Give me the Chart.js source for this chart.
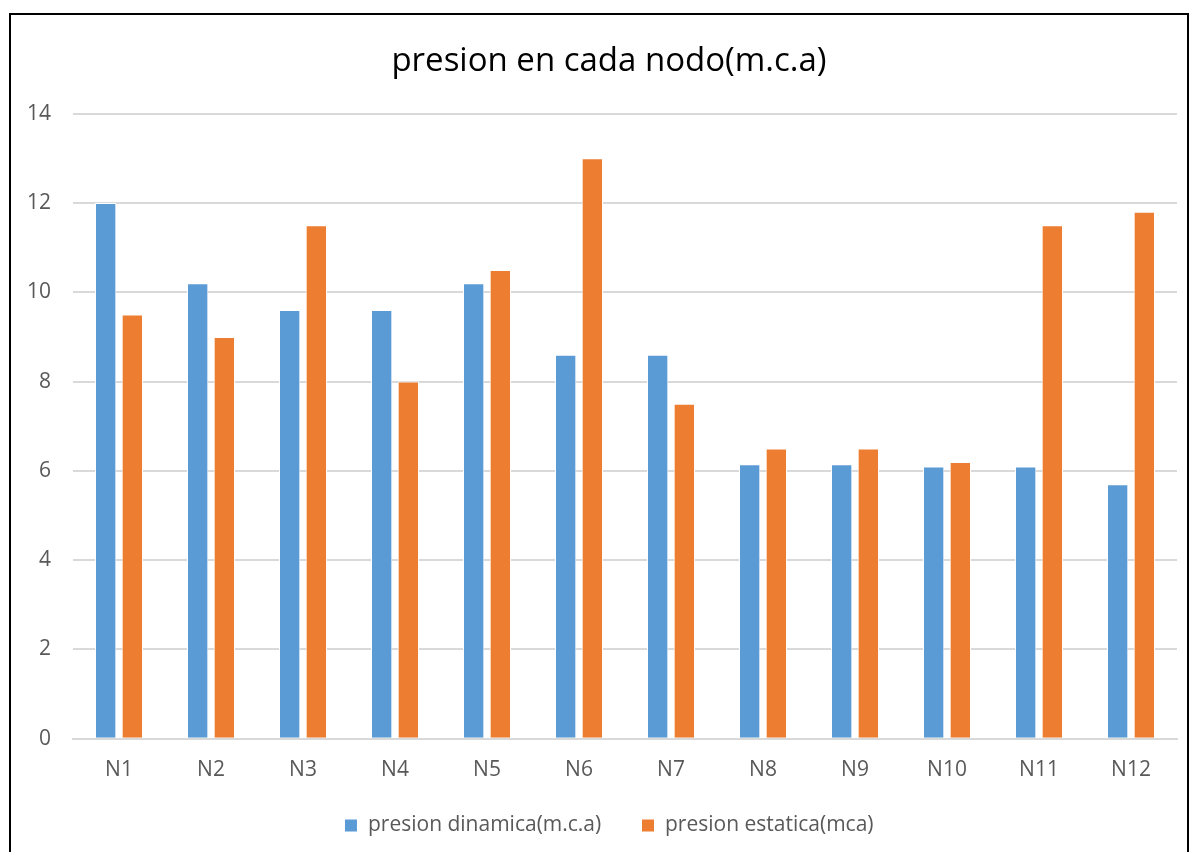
<!DOCTYPE html>
<html lang="es">
<head>
  <meta charset="UTF-8">
  <title>presion en cada nodo</title>
  <script src="https://cdn.jsdelivr.net/npm/chart.js"></script>
  <style>
    body {
      margin: 0;
      background: #fff;
      width: 1195px;
      height: 852px;
      overflow: hidden;
      position: relative;
    }
    .frame {
      position: absolute;
      left: 9px;
      top: 13px;
      width: 1180px;
      height: 860px;
      border: 2px solid #000;
      box-sizing: border-box;
    }
    .wrap {
      position: absolute;
      left: 5px;
      top: 16px;
      width: 1208px;
      height: 836px;
    }
  </style>
</head>
<body>
  <div class="frame"></div>
  <div class="wrap"><canvas id="chart"></canvas></div>

  <script>
    const nodos = ['N1', 'N2', 'N3', 'N4', 'N5', 'N6', 'N7', 'N8', 'N9', 'N10', 'N11', 'N12'];
    const presionDinamica = [12, 10.2, 9.6, 9.6, 10.2, 8.6, 8.6, 6.15, 6.15, 6.1, 6.1, 5.7];
    const presionEstatica = [9.5, 9.0, 11.5, 8.0, 10.5, 13.0, 7.5, 6.5, 6.5, 6.2, 11.5, 11.8];

    const fuente = "'Open Sans', 'Noto Sans', sans-serif";
    const gris = '#595959';

    new Chart(document.getElementById('chart'), {
      type: 'bar',
      data: {
        labels: nodos,
        datasets: [
          {
            label: 'presion dinamica(m.c.a)',
            data: presionDinamica,
            backgroundColor: '#5b9bd5',
            borderColor: '#ffffff',
            borderWidth: 1,
            categoryPercentage: 0.58,
            barPercentage: 0.8
          },
          {
            label: 'presion estatica(mca)',
            data: presionEstatica,
            backgroundColor: '#ed7d31',
            borderColor: '#ffffff',
            borderWidth: 1,
            categoryPercentage: 0.58,
            barPercentage: 0.8
          }
        ]
      },
      options: {
        responsive: true,
        maintainAspectRatio: false,
        animation: false,
        layout: {
          padding: { top: 10, left: 0, right: 0, bottom: 6 }
        },
        plugins: {
          title: {
            display: true,
            text: 'presion en cada nodo(m.c.a)',
            color: '#000',
            font: { family: fuente, size: 33, weight: 'normal' },
            padding: { top: 16, bottom: 32 }
          },
          legend: {
            position: 'bottom',
            labels: {
              color: gris,
              boxWidth: 13,
              boxHeight: 13,
              padding: 13,
              font: { family: fuente, size: 21 },
              // espacio extra entre las dos entradas, como en Excel
              generateLabels(chart) {
                const items = Chart.defaults.plugins.legend.labels.generateLabels(chart);
                items[0].text += '\u00a0\u00a0\u00a0\u00a0\u00a0';
                return items;
              }
            }
          },
          tooltip: { enabled: false }
        },
        scales: {
          x: {
            grid: { display: false, drawTicks: false },
            border: { display: true, color: '#d9d9d9', width: 2 },
            ticks: {
              color: gris,
              padding: 19,
              font: { family: fuente, size: 21 }
            }
          },
          y: {
            min: 0,
            max: 14,
            ticks: {
              stepSize: 2,
              color: gris,
              padding: 22,
              font: { family: fuente, size: 21 }
            },
            grid: { color: '#d9d9d9', lineWidth: 2, drawTicks: false },
            border: { display: false }
          },
          // eje vacio a la derecha: solo reserva el margen derecho del grafico
          margenDer: {
            type: 'linear',
            position: 'right',
            min: 0,
            max: 14,
            ticks: { display: false },
            grid: { display: false, drawTicks: false },
            border: { display: false },
            afterFit(scale) { scale.width = 36; }
          }
        }
      }
    });
  </script>
</body>
</html>
